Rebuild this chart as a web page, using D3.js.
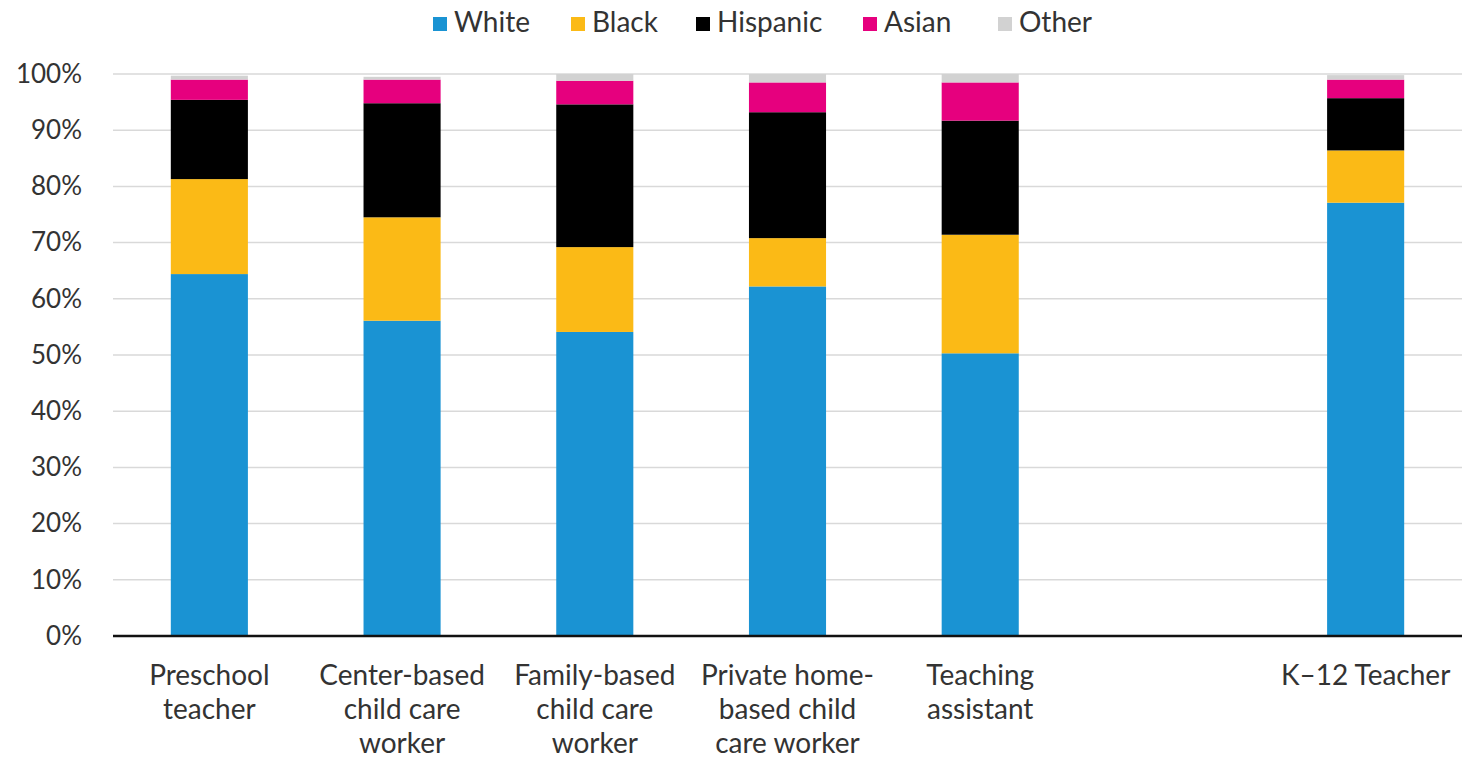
<!DOCTYPE html>
<html>
<head>
<meta charset="utf-8">
<script src="https://cdn.jsdelivr.net/npm/d3@7"></script>
<style>
  body { margin: 0; background: #fff; }
  text { font-family: Lato, "Open Sans", sans-serif; fill: #333; }
</style>
</head>
<body>
<div id="chart"></div>
<script>
// categories (an empty slot sits between Teaching assistant and K-12)
const categories = ["Preschool teacher", "Center-based child care worker", "Family-based child care worker",
  "Private home-based child care worker", "Teaching assistant", "gap", "K-12 Teacher"];
const categoryLines = [
  ["Preschool", "teacher"],
  ["Center-based", "child care", "worker"],
  ["Family-based", "child care", "worker"],
  ["Private home-", "based child", "care worker"],
  ["Teaching", "assistant"],
  [],
  ["K\u201312 Teacher"]
];
const seriesNames = ["White", "Black", "Hispanic", "Asian", "Other"];
const seriesColors = ["#1a93d3", "#fbba16", "#000000", "#e6007e", "#d2d2d2"];

// percentages per category (null for the empty slot)
const white    = [64.4, 56.1, 54.1, 62.2, 50.3, null, 77.1];
const black    = [16.9, 18.4, 15.1, 8.6, 21.1, null, 9.3];
const hispanic = [14.1, 20.3, 25.4, 22.4, 20.3, null, 9.3];
const asian    = [3.6, 4.2, 4.2, 5.3, 6.8, null, 3.3];
const other    = [0.7, 0.5, 1.2, 1.5, 1.5, null, 0.8];

const yTicks = [0, 10, 20, 30, 40, 50, 60, 70, 80, 90, 100];

const width = 1463, height = 761;
const margin = { top: 74, right: 1, bottom: 124, left: 113 };

const table = categories.map((c, i) => ({
  category: c,
  White: white[i], Black: black[i], Hispanic: hispanic[i], Asian: asian[i], Other: other[i]
})).filter(d => d.White !== null);

const stacked = d3.stack().keys(seriesNames)(table);

const svg = d3.select("#chart").append("svg")
  .attr("width", width)
  .attr("height", height);

const x = d3.scaleBand()
  .domain(categories)
  .range([margin.left, width - margin.right])
  .paddingInner(0.6)
  .paddingOuter(0.3);

const y = d3.scaleLinear()
  .domain([0, 100])
  .range([height - margin.bottom - 1, margin.top]);

// gridlines
svg.append("g")
  .selectAll("line")
  .data(yTicks.filter(t => t > 0))
  .join("line")
  .attr("x1", margin.left)
  .attr("x2", width - margin.right)
  .attr("y1", d => y(d))
  .attr("y2", d => y(d))
  .attr("stroke", "#d9d9d9")
  .attr("stroke-width", 1.5);

// y axis labels
const yAxis = svg.append("g")
  .attr("transform", `translate(${margin.left},0)`)
  .call(d3.axisLeft(y).tickValues(yTicks).tickFormat(d => d + "%").tickSize(0).tickPadding(31));
yAxis.select(".domain").remove();
yAxis.selectAll("text")
  .style("font-size", "26px")
  .style("font-family", "Lato, sans-serif")
  .attr("fill", "#333");

// bars
svg.append("g")
  .selectAll("g")
  .data(stacked)
  .join("g")
  .attr("fill", (d, i) => seriesColors[i])
  .selectAll("rect")
  .data(d => d)
  .join("rect")
  .attr("x", d => x(d.data.category))
  .attr("y", d => y(d[1]))
  .attr("width", x.bandwidth())
  .attr("height", d => y(d[0]) - y(d[1]));

// baseline
svg.append("line")
  .attr("x1", margin.left)
  .attr("x2", width - margin.right)
  .attr("y1", y(0))
  .attr("y2", y(0))
  .attr("stroke", "#111")
  .attr("stroke-width", 2.5);

// x labels
const xLabels = svg.append("g")
  .selectAll("text")
  .data(categories)
  .join("text")
  .attr("x", d => x(d) + x.bandwidth() / 2)
  .attr("y", 685)
  .attr("text-anchor", "middle")
  .style("font-size", "28px");
xLabels.each(function(d, i) {
  d3.select(this).selectAll("tspan")
    .data(categoryLines[i])
    .join("tspan")
    .attr("x", x(d) + x.bandwidth() / 2)
    .attr("dy", (t, j) => j === 0 ? 0 : 34)
    .text(t => t);
});

// legend
const legendX = [433, 571, 696, 863, 998];
const legend = svg.append("g")
  .selectAll("g")
  .data(seriesNames)
  .join("g")
  .attr("transform", (d, i) => `translate(${legendX[i]},0)`);
legend.append("rect")
  .attr("x", 0)
  .attr("y", 17)
  .attr("width", 14)
  .attr("height", 14)
  .attr("fill", (d, i) => seriesColors[i]);
legend.append("text")
  .attr("x", 21)
  .attr("y", 32)
  .style("font-size", "28px")
  .text(d => d);
</script>
</body>
</html>
